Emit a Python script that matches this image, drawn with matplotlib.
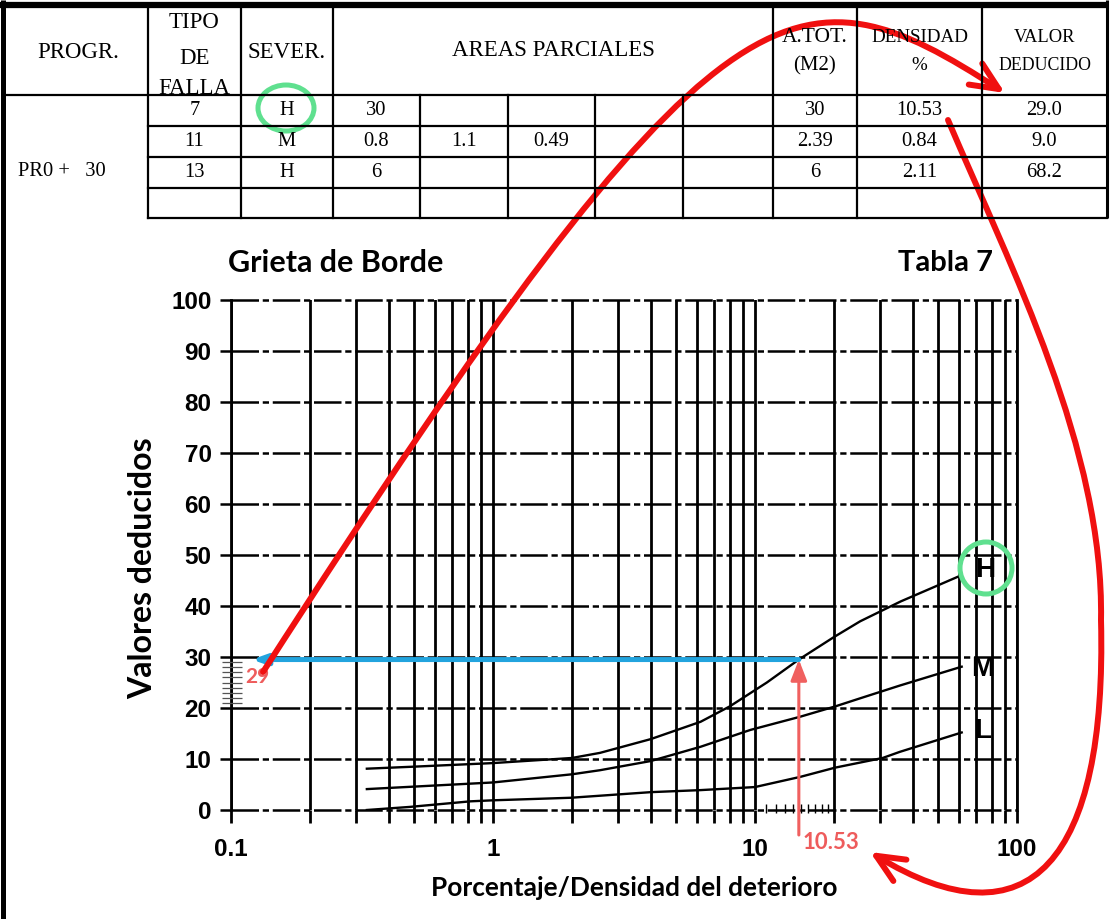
import matplotlib
matplotlib.use("Agg")
import matplotlib.pyplot as plt
from matplotlib.patches import Ellipse, FancyArrowPatch
from matplotlib.path import Path
from matplotlib.ticker import FixedLocator, NullFormatter, LogLocator

# ---------------- data ----------------
hdr_progr = "PROGR."
hdr_tipo = ["TIPO", "DE", "FALLA"]
hdr_sever = "SEVER."
hdr_areas = "AREAS PARCIALES"
hdr_atot = ["A.TOT.", "(M2)"]
hdr_dens = ["DENSIDAD", "%"]
hdr_valor = ["VALOR", "DEDUCIDO"]
progresiva = "PR0 +   30"
tipo_falla = ["7", "11", "13", ""]
severidad = ["H", "M", "H", ""]
area_1 = ["30", "0.8", "6", ""]
area_2 = ["", "1.1", "", ""]
area_3 = ["", "0.49", "", ""]
area_4 = ["", "", "", ""]
area_5 = ["", "", "", ""]
area_total = ["30", "2.39", "6", ""]
densidad = ["10.53", "0.84", "2.11", ""]
valor_deducido = ["29.0", "9.0", "68.2", ""]

chart_title = "Grieta de Borde"
chart_tabla = "Tabla 7"
x_label = "Porcentaje/Densidad del deterioro"
y_label = "Valores deducidos"
x_ticks = [0.1, 1, 10, 100]
x_tick_labels = ["0.1", "1", "10", "100"]
y_ticks = [0, 10, 20, 30, 40, 50, 60, 70, 80, 90, 100]

curve_H_x = [0.33, 0.5, 1.0, 2.0, 2.56, 4.0, 6.2, 8.0, 11.1, 14.7, 20.0, 25.2, 36.0, 60.5]
curve_H_y = [8.1, 8.5, 9.2, 10.2, 11.2, 13.9, 17.3, 20.3, 25.0, 29.5, 33.9, 37.0, 40.9, 45.9]
curve_M_x = [0.33, 1.0, 2.0, 2.56, 4.0, 6.2, 9.6, 14.9, 20.2, 25.2, 35.7, 61.5]
curve_M_y = [4.1, 5.4, 7.0, 7.8, 9.6, 12.4, 15.7, 18.3, 20.3, 21.9, 24.4, 28.1]
curve_L_x = [0.33, 0.48, 0.82, 1.0, 1.98, 2.56, 4.0, 6.2, 10.0, 14.9, 20.2, 30.7, 35.7, 61.5]
curve_L_y = [0.0, 0.6, 1.7, 1.9, 2.4, 2.8, 3.5, 3.9, 4.5, 6.5, 8.3, 10.2, 11.4, 15.2]
curve_names = ["H", "M", "L"]
curve_label_x = [75.5, 74.0, 74.0]
curve_label_y = [47.0, 27.6, 15.4]

density_label = "10.53"
density_mark = 14.7      # where the pointer arrow sits in the picture
deduct_label = "29"
deduct_mark = 29.5
small_y_marks = [21, 22, 23, 24, 25, 26, 27, 28, 29]
small_x_marks = [11, 12, 13, 14, 15, 16, 17, 18, 19]

# ---------------- figure ----------------
W, H = 1110, 919
fig = plt.figure(figsize=(W / 100, H / 100), dpi=100)
fig.patch.set_facecolor("white")

SANS_B = dict(family=["Liberation Sans", "DejaVu Sans"], weight="bold")
CAL_B = dict(family=["Lato", "DejaVu Sans"], weight="bold")
SERIF = dict(family=["Liberation Serif", "DejaVu Serif"])

# main chart axes (pixel box 231..1017 x 300..810)
ax = fig.add_axes([231 / W, 1 - 810 / H, (1017 - 231) / W, (810 - 300) / H])
ax.set_zorder(1)
ax.set_xscale("log")
ax.set_xlim(0.1, 100)
ax.set_ylim(0, 100)
ax.set_facecolor("white")

LWV = 2.0
LWH = 1.8
for y in y_ticks:
    ax.axhline(y, color="black", lw=LWH, ls=(0, (11, 1.5, 2.5, 1.5)), clip_on=False, zorder=2)
ax.xaxis.set_major_locator(FixedLocator(x_ticks))
ax.xaxis.set_minor_locator(LogLocator(base=10, subs=[2, 3, 4, 5, 6, 7, 8, 9]))
ax.xaxis.set_minor_formatter(NullFormatter())
ax.set_xticklabels(x_tick_labels)
ax.grid(True, axis="x", which="both", color="black", lw=LWV, ls="-")
ax.set_yticks(y_ticks)
ax.tick_params(axis="x", which="both", direction="out", length=9, width=LWV, pad=11,
               labelsize=17.5)
ax.tick_params(axis="y", which="both", direction="out", length=8, width=LWH, pad=6,
               labelsize=17.5)
for lab in ax.get_xticklabels() + ax.get_yticklabels():
    lab.set_fontfamily(SANS_B["family"])
    lab.set_fontweight("bold")
for s in ["top", "bottom"]:
    ax.spines[s].set_visible(False)
for s in ["left", "right"]:
    ax.spines[s].set_linewidth(LWV)

# small scale marks
ax.hlines(small_y_marks, -0.011, 0.014, transform=ax.get_yaxis_transform(),
          color="#555555", lw=0.9, clip_on=False, zorder=3)
ax.vlines(small_x_marks, -0.6, 1.2, color="black", lw=1.0, zorder=3, clip_on=False)

# curves
for cx_, cy_ in [(curve_H_x, curve_H_y), (curve_M_x, curve_M_y), (curve_L_x, curve_L_y)]:
    ax.plot(cx_, cy_, color="black", lw=1.7, zorder=4)
for name, lx, ly in zip(curve_names, curve_label_x, curve_label_y):
    ax.text(lx, ly, name, ha="center", va="center", fontsize=20, color="black",
            clip_on=False, zorder=5, **SANS_B)

# blue horizontal reading line
ax.annotate("", xy=(0.12, deduct_mark), xytext=(density_mark, deduct_mark),
            arrowprops=dict(arrowstyle="-|>,head_length=0.7,head_width=0.25",
                            color="#22a4de", lw=3.6, shrinkA=0, shrinkB=0,
                            mutation_scale=12), zorder=6)
# salmon vertical arrow
ax.annotate("", xy=(density_mark, deduct_mark), xytext=(density_mark, -4.9),
            annotation_clip=False,
            arrowprops=dict(arrowstyle="-|>,head_length=0.9,head_width=0.35",
                            color="#f0605f", lw=2.2, shrinkA=0, shrinkB=0,
                            mutation_scale=14), zorder=6)
ax.annotate(density_label, xy=(density_mark, -6.3), xytext=(3, 0),
            textcoords="offset points", ha="left", va="center", fontsize=16,
            color="#ee5c5c", annotation_clip=False, zorder=6, **CAL_B)
ax.text(0.1265, 26.0, deduct_label, ha="center", va="center", fontsize=15,
        color="#ee5c5c", zorder=6, **CAL_B)

# chart texts
fig.text(336 / W, 1 - 263 / H, chart_title, ha="center", va="center", fontsize=22, **CAL_B)
fig.text(946 / W, 1 - 263 / H, chart_tabla, ha="center", va="center", fontsize=21, **CAL_B)
fig.text(634 / W, 1 - 888 / H, x_label, ha="center", va="center", fontsize=18.9, **CAL_B)
fig.text(143 / W, 1 - 568 / H, y_label, ha="center", va="center", rotation=90,
         fontsize=23, **CAL_B)

# ---------------- overlay (table + annotations) in pixel coordinates ----------------
ov = fig.add_axes([0, 0, 1, 1])
ov.set_zorder(5)
ov.set_xlim(0, W)
ov.set_ylim(H, 0)
ov.axis("off")
ov.patch.set_alpha(0)

col_x = [5, 148, 241, 333, 420, 508, 595, 683, 773, 857, 982, 1107]
row_y = [5, 95, 126, 157, 188, 218]
TL = 1.6
ov.plot([0, 1107], [5, 5], color="black", lw=4.5, solid_capstyle="butt")
ov.plot([3, 3], [0, H], color="black", lw=3.6, solid_capstyle="butt")
ov.plot([1107, 1107], [0, 218], color="black", lw=2.2, solid_capstyle="butt")
ov.plot([5, 1107], [row_y[1], row_y[1]], color="black", lw=TL)
for yy in row_y[2:]:
    ov.plot([col_x[1], 1107], [yy, yy], color="black", lw=TL)
for i in [1, 2, 3, 8, 9, 10]:
    ov.plot([col_x[i], col_x[i]], [row_y[0], row_y[-1]], color="black", lw=TL)
for i in [4, 5, 6, 7]:
    ov.plot([col_x[i], col_x[i]], [row_y[1], row_y[-1]], color="black", lw=TL)

def cx(i):
    return (col_x[i] + col_x[i + 1]) / 2

HF = 16.5
ov.text(78, 52, hdr_progr, ha="center", va="center", fontsize=HF, **SERIF)
for t, yy in zip(hdr_tipo, [23, 58, 89]):
    ov.text(cx(1), yy, t, ha="center", va="center", fontsize=HF, **SERIF)
ov.text(cx(2), 52, hdr_sever, ha="center", va="center", fontsize=HF, **SERIF)
ov.text(553, 50, hdr_areas, ha="center", va="center", fontsize=HF, **SERIF)
ov.text(815, 37, hdr_atot[0], ha="center", va="center", fontsize=15.5, **SERIF)
ov.text(815, 66, hdr_atot[1], ha="center", va="center", fontsize=15, **SERIF)
ov.text(cx(9), 37, hdr_dens[0], ha="center", va="center", fontsize=13.7, **SERIF)
ov.text(cx(9), 65, hdr_dens[1], ha="center", va="center", fontsize=13.7, **SERIF)
ov.text(cx(10), 38, hdr_valor[0], ha="center", va="center", fontsize=13.3, **SERIF)
ov.text(cx(10), 65, hdr_valor[1], ha="center", va="center", fontsize=12.8, **SERIF)

DF = 14.8
cols = [tipo_falla, severidad, area_1, area_2, area_3, area_4, area_5,
        area_total, densidad, valor_deducido]
for r in range(4):
    yc = (row_y[r + 1] + row_y[r + 2]) / 2
    for j, col in enumerate(cols):
        if col[r]:
            ov.text(cx(j + 1), yc, col[r], ha="center", va="center", fontsize=DF, **SERIF)
ov.text(18, 172, progresiva, ha="left", va="center", fontsize=DF, **SERIF)

# green circles
GREEN = "#5fe08f"
ov.add_patch(Ellipse((286, 108), 56, 46, fill=False, ec=GREEN, lw=3.6))
ov.add_patch(Ellipse((986, 568), 52, 52, fill=False, ec=GREEN, lw=3.6))

# red curved arrows
RED = "#f01010"
arc1 = Path([(263, 672), (722, -42), (795, -42), (1005, 93)],
            [Path.MOVETO, Path.CURVE4, Path.CURVE4, Path.CURVE4])
ov.add_patch(FancyArrowPatch(path=arc1, arrowstyle="->,head_length=1.0,head_width=0.45",
                             mutation_scale=20, color=RED, lw=4.3, capstyle="round"))
arc2 = Path([(948, 120), (1012, 270), (1104, 450), (1101, 620),
             (1107, 860), (1030, 950), (870, 852)],
            [Path.MOVETO, Path.CURVE4, Path.CURVE4, Path.CURVE4,
             Path.CURVE4, Path.CURVE4, Path.CURVE4])
ov.add_patch(FancyArrowPatch(path=arc2, arrowstyle="->,head_length=1.0,head_width=0.45",
                             mutation_scale=20, color=RED, lw=4.3, capstyle="round"))

fig.savefig("out.png", dpi=100)
